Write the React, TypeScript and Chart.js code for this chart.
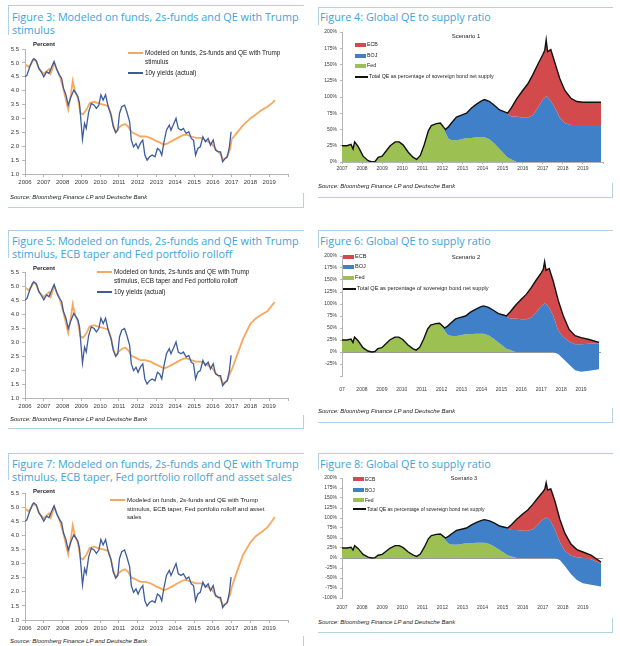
import React, { useEffect, useRef } from "react";
import { Chart, registerables } from "chart.js";

Chart.register(...registerables);

// ---------- 10y yields (actual) ----------
const yieldYears = [
  2006.0, 2006.1, 2006.25, 2006.4, 2006.47, 2006.6, 2006.74, 2006.86, 2007.0, 2007.15, 2007.28, 2007.46,
  2007.55, 2007.7, 2007.82, 2007.95, 2008.05, 2008.18, 2008.3, 2008.45, 2008.6, 2008.72, 2008.81, 2008.9,
  2008.99, 2009.06, 2009.17, 2009.26, 2009.39, 2009.53, 2009.68, 2009.8, 2009.93, 2010.04, 2010.16, 2010.29,
  2010.43, 2010.58, 2010.7, 2010.83, 2010.94, 2011.03, 2011.15, 2011.3, 2011.42, 2011.57, 2011.66, 2011.78,
  2011.91, 2012.02, 2012.14, 2012.27, 2012.38, 2012.5, 2012.63, 2012.77, 2012.92, 2013.05, 2013.17, 2013.28,
  2013.4, 2013.53, 2013.68, 2013.77, 2013.89, 2014.04, 2014.16, 2014.31, 2014.43, 2014.58, 2014.72, 2014.85,
  2014.97, 2015.08, 2015.2, 2015.33, 2015.47, 2015.6, 2015.75, 2015.87, 2016.02, 2016.14, 2016.29, 2016.41,
  2016.52, 2016.65, 2016.77, 2016.88, 2016.97,
];
const yieldActual = [
  4.5, 4.55, 4.85, 5.1, 5.15, 5.08, 4.8, 4.68, 4.5, 4.68, 4.62, 4.92,
  5.05, 4.75, 4.57, 4.45, 4.08, 3.85, 3.48, 3.78, 4.02, 3.9, 3.8, 3.55,
  2.82, 2.25, 2.82, 2.64, 3.24, 3.54, 3.48, 3.36, 3.48, 3.85, 3.66, 3.85,
  3.42, 3.12, 2.7, 2.49, 2.58, 3.18, 3.42, 3.48, 3.24, 2.88, 2.22, 1.98,
  2.1, 1.92, 2.1, 2.22, 1.68, 1.5, 1.62, 1.68, 1.62, 1.92, 1.86, 1.68,
  2.16, 2.58, 2.76, 2.58, 2.76, 3.0, 2.64, 2.58, 2.64, 2.46, 2.52, 2.28,
  2.22, 1.68, 1.92, 1.98, 2.34, 2.16, 2.28, 2.04, 2.22, 1.86, 1.8, 1.8,
  1.44, 1.56, 1.62, 1.98, 2.52,
];

// ---------- Modeled yields (history, common to all three scenarios) ----------
const modelYears = [
  2006.0, 2006.2, 2006.35, 2006.47, 2006.6, 2006.74, 2006.86, 2007.0, 2007.15, 2007.28, 2007.37, 2007.55,
  2007.7, 2007.82, 2008.05, 2008.3, 2008.45, 2008.54, 2008.67, 2008.81, 2008.95, 2009.08, 2009.26, 2009.44,
  2009.68, 2009.9, 2010.16, 2010.43, 2010.58, 2010.7, 2010.83, 2010.97, 2011.15, 2011.33, 2011.5, 2011.68,
  2011.86, 2012.14, 2012.4, 2012.68, 2012.95, 2013.22, 2013.4, 2013.58, 2013.86, 2014.13, 2014.4, 2014.58,
  2014.85, 2015.1, 2015.38, 2015.65, 2015.92, 2016.2, 2016.38, 2016.56, 2016.74, 2016.92,
];
const modelHist = [
  4.95, 4.85, 5.0, 5.12, 5.05, 4.8, 4.7, 4.6, 4.7, 4.78, 4.62, 5.0,
  4.75, 4.6, 4.05, 3.32, 3.9, 4.35, 3.95, 3.75, 3.2, 3.15, 3.3, 3.55,
  3.6, 3.55, 3.5, 3.45, 3.15, 2.75, 2.5, 2.65, 2.75, 2.8, 2.7, 2.5,
  2.45, 2.35, 2.35, 2.3, 2.2, 2.12, 2.05, 2.1, 2.2, 2.3, 2.4, 2.42,
  2.35, 2.3, 2.3, 2.2, 2.1, 1.85, 1.75, 1.5, 1.6, 1.9,
];

// ---------- Modeled yields (forecast by scenario) ----------
const forecastYears = [2017.0, 2017.3, 2017.6, 2018.0, 2018.3, 2018.6, 2018.9, 2019.2, 2019.3];
const forecastFig3 = [2.25, 2.5, 2.75, 3.0, 3.15, 3.3, 3.42, 3.58, 3.66];
const forecastFig5 = [2.0, 2.55, 3.1, 3.65, 3.85, 3.98, 4.1, 4.35, 4.42];
const forecastFig7 = [2.15, 2.75, 3.3, 3.75, 3.98, 4.12, 4.28, 4.55, 4.65];

// ---------- Global QE to supply ratio (%), history common to all scenarios ----------
const qeHistYears = [
  2007.0, 2007.25, 2007.45, 2007.55, 2007.63, 2007.8, 2008.05, 2008.3, 2008.5, 2008.65, 2008.8, 2009.0,
  2009.15, 2009.4, 2009.65, 2009.85, 2010.05, 2010.3, 2010.55, 2010.72, 2010.9, 2011.1, 2011.3, 2011.45,
  2011.7, 2011.9, 2012.05, 2012.15, 2012.3, 2012.45, 2012.7, 2012.95, 2013.2, 2013.45, 2013.7, 2013.95,
  2014.1, 2014.35, 2014.6, 2014.85, 2015.1, 2015.25, 2015.45, 2015.7, 2016.0, 2016.25, 2016.5, 2016.75,
  2017.0, 2017.1, 2017.17, 2017.24,
];
const fedHist = [
  25, 25, 27, 20, 31, 24, 9, 2, 0, 1, 7, 9,
  15, 25, 31, 31, 26, 15, 7, 4, 10, 27, 48, 56,
  59, 60, 54, 45, 36, 34, 33, 35, 37, 37, 38, 38,
  38, 35, 28, 20, 12, 7, 4, 0, 0, 0, 0, 0,
  0, 0, 0, 0,
];
const bojHist = [
  0, 0, 0, 0, 0, 0, 0, 0, 0, 0, 0, 0,
  0, 0, 0, 0, 0, 0, 0, 0, 0, 0, 0, 0,
  0, 0, 0, 5, 18, 26, 36, 37, 38, 46, 51, 56,
  58, 58, 59, 60, 65, 67, 66, 70, 68, 68, 72, 83,
  96, 99, 101, 100,
];
const ecbHist = [
  0, 0, 0, 0, 0, 0, 0, 0, 0, 0, 0, 0,
  0, 0, 0, 0, 0, 0, 0, 0, 0, 0, 0, 0,
  0, 0, 0, 0, 0, 0, 0, 0, 0, 0, 0, 0,
  0, 0, 0, 0, 0, 1, 14, 27, 42, 52, 62, 67,
  69, 73, 87, 70,
];

// ---------- QE scenarios (from mid-2017) ----------
const qeTailYears = [2017.4, 2017.6, 2017.85, 2018.1, 2018.4, 2018.7, 2019.0, 2019.4, 2019.9];
const fedScenario1 = [0, 0, 0, 0, 0, 0, 0, 0, 0];
const bojScenario1 = [94, 84, 68, 60, 57, 57, 57, 57, 57];
const ecbScenario1 = [79, 69, 60, 50, 41, 36, 35, 35, 35];
const fedScenario2 = [0, 0, -4, -14, -26, -38, -41, -39, -36];
const bojScenario2 = [92, 76, 49, 46, 48, 54, 57, 56, 54];
const ecbScenario2 = [82, 72, 63, 44, 25, 18, 14, 9, 2];
const fedScenario3 = [0, 0, -5, -20, -40, -55, -63, -67, -71];
const bojScenario3 = [92, 72, 45, 38, 46, 57, 63, 64, 57];
const ecbScenario3 = [81, 71, 57, 44, 29, 19, 15, 10, 4];

const SOURCE = "Source: Bloomberg Finance LP and Deutsche Bank";
const TOTAL_LABEL = "Total QE as percentage of sovereign bond net supply";

const C = {
  orange: "#f6a85f",
  navy: "#3c5c9e",
  ecb: "#d24a4c",
  boj: "#3f80c8",
  fed: "#9cc052",
  title: "#42a3d6",
  frame: "#b0d2e3",
  axis: "#b5b5b5",
  tick: "#3a3a3a",
};
const SANS = "'Liberation Sans', Arial, sans-serif";

type Box = { cx: number; cy: number; cw: number; ch: number; pl: number; pt: number; pr: number; pb: number };

const layoutOf = (b: Box) => ({ padding: { left: 0, top: b.pt - b.cy, right: b.cx + b.cw - b.pr, bottom: 0 } });

function lineChart(b: Box, fc: number[], label: string) {
  const model = modelYears
    .map((x, i) => ({ x, y: modelHist[i] }))
    .concat(forecastYears.map((x, i) => ({ x, y: fc[i] })));
  const actual = yieldYears.map((x, i) => ({ x, y: yieldActual[i] }));
  return {
    type: "line",
    data: {
      datasets: [
        { label: "10y yields (actual)", data: actual, borderColor: C.navy, borderWidth: 1.3, pointRadius: 0, fill: false },
        { label, data: model, borderColor: C.orange, borderWidth: 1.8, pointRadius: 0, fill: false },
      ],
    },
    options: {
      responsive: false,
      animation: false,
      events: [],
      layout: layoutOf(b),
      plugins: { legend: { display: false }, tooltip: { enabled: false } },
      scales: {
        x: {
          type: "linear",
          min: 2006,
          max: 2020,
          afterFit: (s: any) => { s.height = b.cy + b.ch - b.pb; },
          ticks: {
            stepSize: 1, autoSkip: false, maxRotation: 0, minRotation: 0, padding: 2,
            color: C.tick, font: { family: SANS, size: 6 },
            callback: (v: any) => (v >= 2020 ? "" : String(v)),
          },
          grid: { drawOnChartArea: false, tickLength: 3, color: C.axis },
          border: { color: C.axis },
        },
        y: {
          min: 1,
          max: 5.5,
          afterFit: (s: any) => { s.width = b.pl - b.cx; },
          ticks: {
            stepSize: 0.5, padding: 3, color: C.tick, font: { family: SANS, size: 6 },
            callback: (v: any) => Number(v).toFixed(1),
          },
          grid: { drawOnChartArea: false, tickLength: 3, color: C.axis },
          border: { color: C.axis },
        },
      },
    },
  };
}

function qeChart(
  b: Box, fedTail: number[], bojTail: number[], ecbTail: number[],
  yMin: number, hideLabel: number | null, firstLabel: string, xPad: number,
) {
  const years = qeHistYears.concat(qeTailYears);
  const fed = fedHist.concat(fedTail);
  const boj = bojHist.concat(bojTail);
  const ecb = ecbHist.concat(ecbTail);
  const bojTop = fed.map((f, i) => f + boj[i]);
  const total = bojTop.map((v, i) => v + ecb[i]);
  const pts = (a: number[]) => years.map((x, i) => ({ x, y: a[i] }));
  const area = (label: string, data: any[], color: string, fill: any) => ({
    label, data, borderColor: "rgba(0,0,0,0)", borderWidth: 0, backgroundColor: color, fill, pointRadius: 0,
  });
  const zeroAxis = yMin === 0;
  return {
    type: "line",
    data: {
      datasets: [
        { label: TOTAL_LABEL, data: pts(total), borderColor: "#111", borderWidth: 1.4, pointRadius: 0, fill: false },
        area("ECB", pts(total), C.ecb, "+1"),
        area("BOJ", pts(bojTop), C.boj, "+1"),
        area("Fed", pts(fed), C.fed, { target: "origin", above: C.fed, below: "rgba(0,0,0,0)" }),
      ],
    },
    options: {
      responsive: false,
      animation: false,
      events: [],
      layout: layoutOf(b),
      plugins: { legend: { display: false }, tooltip: { enabled: false } },
      scales: {
        x: {
          type: "linear",
          min: 2007,
          max: 2020,
          afterFit: (s: any) => { s.height = b.cy + b.ch - b.pb; },
          ticks: {
            stepSize: 1, autoSkip: false, maxRotation: 0, minRotation: 0, padding: xPad,
            color: C.tick, font: { family: SANS, size: 5 },
            callback: (v: any) => (v >= 2020 ? "" : v === 2007 ? firstLabel : String(v)),
          },
          grid: { display: zeroAxis, drawOnChartArea: false, tickLength: 2, color: C.axis },
          border: { display: zeroAxis, color: C.axis },
        },
        y: {
          min: yMin,
          max: 200,
          afterFit: (s: any) => { s.width = b.pl - b.cx; },
          ticks: {
            stepSize: 25, padding: 3, color: C.tick, font: { family: SANS, size: 5 },
            callback: (v: any) => (v === hideLabel ? "" : v + "%"),
          },
          grid: {
            drawOnChartArea: !zeroAxis,
            tickLength: 2,
            tickColor: C.axis,
            color: (ctx: any) => (ctx.tick && ctx.tick.value === 0 ? "#9a9a9a" : "rgba(0,0,0,0)"),
          },
          border: { color: C.axis },
        },
      },
    },
  };
}

function ChartCanvas({ box, make }: { box: Box; make: () => any }) {
  const ref = useRef<HTMLCanvasElement | null>(null);
  useEffect(() => {
    if (!ref.current) return;
    const chart = new Chart(ref.current, make());
    return () => chart.destroy();
  }, []);
  return (
    <canvas
      ref={ref}
      width={box.cw}
      height={box.ch}
      style={{ position: "absolute", left: box.cx, top: box.cy, width: box.cw, height: box.ch }}
    />
  );
}

function T(props: {
  x: number; y: number; size: number; children: any; color?: string; bold?: boolean;
  italic?: boolean; family?: string; center?: boolean;
}) {
  return (
    <div
      style={{
        position: "absolute",
        left: props.x,
        top: props.y,
        transform: props.center ? "translate(-50%,-50%)" : "translateY(-50%)",
        fontSize: props.size,
        lineHeight: 1,
        whiteSpace: "nowrap",
        color: props.color || "#222",
        fontWeight: props.bold ? 700 : 400,
        fontStyle: props.italic ? "italic" : "normal",
        fontFamily: props.family || SANS,
      }}
    >
      {props.children}
    </div>
  );
}

function R(props: { x: number; y: number; w: number; h: number; c: string }) {
  return (
    <div style={{ position: "absolute", left: props.x, top: props.y, width: props.w, height: props.h, background: props.c }} />
  );
}

const TITLE_FONT = "'Open Sans', 'DejaVu Sans', sans-serif";

function Title({ x, y, lines }: { x: number; y: number; lines: string[] }) {
  return (
    <>
      {lines.map((l, i) => (
        <T key={i} x={x} y={y + i * 13} size={10.8} color={C.title} family={TITLE_FONT}>
          {l}
        </T>
      ))}
    </>
  );
}

function LineLegend({ x, y, lines, gap }: { x: number; y: number; lines: string[]; gap: number }) {
  const n = lines.length;
  return (
    <>
      <R x={x} y={y - 1} w={15} h={2} c={C.orange} />
      {lines.map((l, i) => (
        <T key={i} x={x + 17} y={y + i * gap} size={6.4}>
          {l}
        </T>
      ))}
      <R x={x} y={y + n * gap + 2 - 1} w={15} h={2} c={C.navy} />
      <T x={x + 17} y={y + n * gap + 2} size={6.4}>
        10y yields (actual)
      </T>
    </>
  );
}

function QeLegend({ x, ys, size }: { x: number; ys: number[]; size: number }) {
  const items: [string, string][] = [["ECB", C.ecb], ["BOJ", C.boj], ["Fed", C.fed]];
  return (
    <>
      {items.map(([l, c], i) => (
        <React.Fragment key={l}>
          <R x={x} y={ys[i] - 2} w={11} h={4} c={c} />
          <T x={x + 12} y={ys[i]} size={size}>
            {l}
          </T>
        </React.Fragment>
      ))}
      <R x={x} y={ys[3] - 1} w={13} h={2} c="#111" />
      <T x={x + 14} y={ys[3]} size={size}>
        {TOTAL_LABEL}
      </T>
    </>
  );
}

function Frame({ l, r, top, bottom, leftBar, rightBar }: {
  l: number; r: number; top: number; bottom: number | null; leftBar: number; rightBar: number;
}) {
  return (
    <>
      <R x={l} y={top} w={r - l} h={1} c={C.frame} />
      <R x={l} y={top} w={1} h={leftBar} c={C.frame} />
      {bottom !== null && <R x={l} y={bottom} w={r - l} h={1} c={C.frame} />}
      <R x={r - 1} y={(bottom ?? 646) - rightBar} w={1} h={rightBar + 1} c={C.frame} />
    </>
  );
}

const box3: Box = { cx: 0, cy: 40, cw: 300, ch: 150, pl: 25, pt: 49, pr: 288, pb: 174 };
const box5: Box = { cx: 0, cy: 262, cw: 300, ch: 152, pl: 25, pt: 272, pr: 288, pb: 398 };
const box7: Box = { cx: 0, cy: 483, cw: 300, ch: 153, pl: 25, pt: 493, pr: 288, pb: 620 };
const box4: Box = { cx: 310, cy: 22, cw: 300, ch: 155, pl: 342, pt: 32, pr: 603, pb: 162 };
const box6: Box = { cx: 310, cy: 246, cw: 300, ch: 150, pl: 342, pt: 256, pr: 603, pb: 376 };
const box8: Box = { cx: 310, cy: 468, cw: 300, ch: 145, pl: 342, pt: 478, pr: 603, pb: 598 };

export default function App() {
  return (
    <div
      style={{
        position: "absolute", left: 0, top: 0, width: 620, height: 646, overflow: "hidden",
        background: "#ffffff", fontFamily: SANS,
      }}
    >
      {/* Frames */}
      <Frame l={8} r={304} top={5} bottom={207} leftBar={30} rightBar={14} />
      <Frame l={318} r={613} top={7} bottom={197} leftBar={18} rightBar={14} />
      <Frame l={8} r={304} top={230} bottom={428} leftBar={28} rightBar={13} />
      <Frame l={318} r={613} top={230} bottom={422} leftBar={18} rightBar={14} />
      <Frame l={8} r={304} top={453} bottom={null} leftBar={27} rightBar={10} />
      <Frame l={318} r={613} top={453} bottom={632} leftBar={17} rightBar={14} />

      {/* Titles */}
      <Title x={12} y={17} lines={["Figure 3: Modeled on funds, 2s-funds and QE with Trump", "stimulus"]} />
      <Title x={320} y={17} lines={["Figure 4: Global QE to supply ratio"]} />
      <Title
        x={12}
        y={241}
        lines={["Figure 5: Modeled on funds, 2s-funds and QE with Trump", "stimulus, ECB taper and Fed portfolio rolloff"]}
      />
      <Title x={320} y={241} lines={["Figure 6: Global QE to supply ratio"]} />
      <Title
        x={12}
        y={464}
        lines={["Figure 7: Modeled on funds, 2s-funds and QE with Trump", "stimulus, ECB taper, Fed portfolio rolloff and asset sales"]}
      />
      <Title x={320} y={464} lines={["Figure 8: Global QE to supply ratio"]} />

      {/* Charts */}
      <ChartCanvas box={box3} make={() => lineChart(box3, forecastFig3, "Modeled on funds, 2s-funds and QE with Trump stimulus")} />
      <ChartCanvas box={box5} make={() => lineChart(box5, forecastFig5, "Modeled (ECB taper, Fed rolloff)")} />
      <ChartCanvas box={box7} make={() => lineChart(box7, forecastFig7, "Modeled (asset sales)")} />
      <ChartCanvas box={box4} make={() => qeChart(box4, fedScenario1, bojScenario1, ecbScenario1, 0, null, "2007", 2)} />
      <ChartCanvas box={box6} make={() => qeChart(box6, fedScenario2, bojScenario2, ecbScenario2, -50, -50, "07", 9)} />
      <ChartCanvas box={box8} make={() => qeChart(box8, fedScenario3, bojScenario3, ecbScenario3, -100, null, "2007", 5)} />

      {/* Percent labels */}
      <T x={33} y={44} size={6} bold>Percent</T>
      <T x={33} y={268} size={6} bold>Percent</T>
      <T x={33} y={491} size={6} bold>Percent</T>

      {/* Line chart legends */}
      <LineLegend x={128} y={53} gap={9} lines={["Modeled on funds, 2s-funds and QE with Trump", "stimulus"]} />
      <LineLegend
        x={97}
        y={272}
        gap={9}
        lines={["Modeled on funds, 2s-funds and QE with Trump", "stimulus, ECB taper and Fed portfolio rolloff"]}
      />
      <R x={110} y={499} w={15} h={2} c={C.orange} />
      <T x={127} y={500} size={6.2}>Modeled on funds, 2s-funds and QE with Trump</T>
      <T x={127} y={508.5} size={6.2}>stimulus, ECB taper, Fed portfolio rolloff and asset</T>
      <T x={127} y={517} size={6.2}>sales</T>

      {/* QE legends */}
      <QeLegend x={355} ys={[45, 56, 66, 77]} size={5.3} />
      <T x={466} y={36} size={6} center>Scenario 1</T>
      <QeLegend x={343} ys={[257, 267, 278, 289]} size={5.6} />
      <T x={466} y={257} size={6} center>Scenario 2</T>
      <QeLegend x={353} ys={[479, 490, 500, 509]} size={5} />
      <T x={464} y={479} size={5.5} center>Scenario 3</T>

      {/* Sources */}
      <T x={10} y={197} size={6} italic>{SOURCE}</T>
      <T x={318} y={186} size={6} italic>{SOURCE}</T>
      <T x={10} y={419} size={6} italic>{SOURCE}</T>
      <T x={318} y={411} size={6} italic>{SOURCE}</T>
      <T x={10} y={641} size={6} italic>{SOURCE}</T>
      <T x={318} y={622} size={6} italic>{SOURCE}</T>
    </div>
  );
}
